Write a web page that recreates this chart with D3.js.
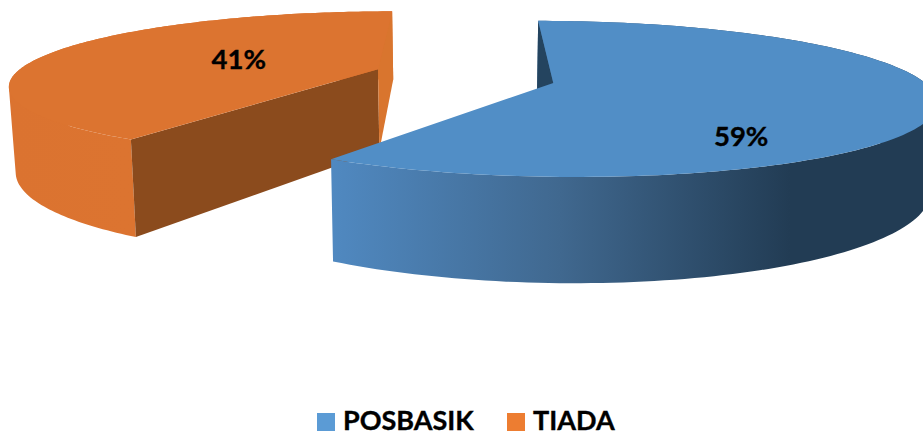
<!DOCTYPE html>
<html><head><meta charset="utf-8">
<script src="https://cdn.jsdelivr.net/npm/d3@7/dist/d3.min.js"></script>
<style>html,body{margin:0;padding:0;background:#fff}svg{display:block}text{font-family:Lato,"Open Sans",sans-serif;font-weight:700;fill:#000;stroke:#000;stroke-width:.35px}</style>
</head><body><script>
const categories = ["POSBASIK", "TIADA"];
const values = [59, 41];
const legendColors = ["#5b9bd5", "#ed7d31"];
const topColors = ["#518ec6", "#dc7430"];

const W = 923, H = 432;
const vanishX = 464, centerY = 76, R = 365, Ry = 72, k = 0.2, depth = 83, bottomShrink = 0.985;
const explodeU = 0.24, explodeV = 0.095;

const svg = d3.select("body").append("svg").attr("width", W).attr("height", H);
const defs = svg.append("defs");

const pie = d3.pie().value(d => d).sort(null);
const arcs = pie(values);

function project(u, v, h) {
  const w = 1 / (1 - k * v);
  const s = 1 + (bottomShrink - 1) * h;
  return [vanishX + R * u * w * s, centerY + Ry * v * w + depth * h * w];
}
const line = d3.line();

function gradient(id, stops, x1, x2) {
  const g = defs.append("linearGradient").attr("id", id)
    .attr("gradientUnits", "userSpaceOnUse")
    .attr("x1", x1).attr("x2", x2).attr("y1", 0).attr("y2", 0);
  stops.forEach(s => g.append("stop").attr("offset", s[0]).attr("stop-color", s[1]));
}
gradient("wall0", [[0, "#5089c1"], [0.5, "#40688f"], [1, "#223c54"]], 330, 790);
gradient("wall1", [[0, "#db7330"], [1, "#dc7430"]], 10, 130);

const capColors = ["#24445f", "#d9752e"];
const cutColor = "#8b4b1d";

function drawSlice(d, i) {
  const mid = (d.startAngle + d.endAngle) / 2;
  const signU = Math.sign(Math.sin(mid)), signV = -Math.sign(Math.cos(mid));
  const P = (a, r, h) => project(signU * explodeU + r * Math.sin(a), signV * explodeV - r * Math.cos(a), h);
  const g = svg.append("g");
  const angles = d3.range(0, 161).map(t => d.startAngle + (d.endAngle - d.startAngle) * t / 160);
  // outer curved wall: union of quads with a shared winding, so no seams and no cancelling
  const wallPath = d3.pairs(angles).map(([a, b]) => {
    const q = [P(a, 1, 0), P(b, 1, 0), P(b, 1, 1), P(a, 1, 1)];
    return line(d3.polygonArea(q) < 0 ? q.reverse() : q) + "Z";
  }).join("");
  g.append("path").attr("fill", `url(#wall${i})`).attr("fill-rule", "nonzero").attr("d", wallPath);
  // radial walls
  const ends = i === 0 ? [[d.startAngle, capColors[0]]]
                       : [[d.startAngle, cutColor], [d.endAngle, capColors[1]]];
  ends.forEach(([a, col]) => {
    g.append("path").attr("fill", col)
      .attr("d", line([P(a, 1, 0), P(a, 0, 0), P(a, 0, 1), P(a, 1, 1)]) + "Z");
  });
  // top face
  const face = [P(0, 0, 0)].concat(angles.map(a => P(a, 1, 0)));
  g.append("path").attr("fill", topColors[i]).attr("d", line(face) + "Z");
  return P;
}
const projectors = arcs.slice().reverse().map(d => ({ d, P: drawSlice(d, d.index) }));

const labelRadius = [0.745, 0.43];
const labelShare = [0.69, 0.52];
projectors.forEach(({ d, P }) => {
  const a = d.startAngle + (d.endAngle - d.startAngle) * labelShare[d.index];
  const p = P(a, labelRadius[d.index], 0);
  svg.append("text").attr("x", p[0]).attr("y", p[1]).attr("dy", "0.35em")
    .attr("text-anchor", "middle").attr("font-size", 27.5).text(d.value + "%");
});

const legendX = d3.scaleOrdinal().domain(categories).range([317, 507]);
categories.forEach((c, i) => {
  svg.append("rect").attr("x", legendX(c)).attr("y", 413).attr("width", 18).attr("height", 18).attr("fill", legendColors[i]);
  svg.append("text").attr("x", legendX(c) + 26).attr("y", 430).attr("font-size", 27).text(c);
});
</script></body></html>
